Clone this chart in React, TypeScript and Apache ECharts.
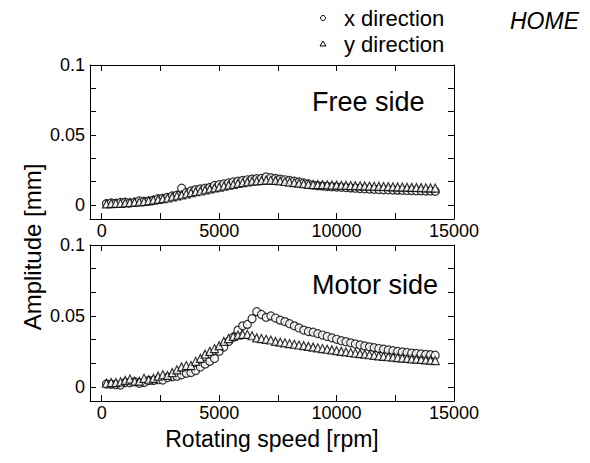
import React, { useEffect, useRef } from "react";
import * as echarts from "echarts";

const rpm = [
  200, 400, 600, 800, 1000, 1200, 1400, 1600, 1800, 2000,
  2200, 2400, 2600, 2800, 3000, 3200, 3400, 3600, 3800, 4000,
  4200, 4400, 4600, 4800, 5000, 5200, 5400, 5600, 5800, 6000,
  6200, 6400, 6600, 6800, 7000, 7200, 7400, 7600, 7800, 8000,
  8200, 8400, 8600, 8800, 9000, 9200, 9400, 9600, 9800, 10000,
  10200, 10400, 10600, 10800, 11000, 11200, 11400, 11600, 11800, 12000,
  12200, 12400, 12600, 12800, 13000, 13200, 13400, 13600, 13800, 14000,
  14200,
];

const freeX = [
  0.0010, 0.0015, 0.0012, 0.0018, 0.0020, 0.0015, 0.0020, 0.0030, 0.0025, 0.0028,
  0.0035, 0.0045, 0.0048, 0.0055, 0.0065, 0.0070, 0.0120, 0.0090, 0.0100, 0.0110,
  0.0115, 0.0120, 0.0125, 0.0140, 0.0145, 0.0150, 0.0158, 0.0165, 0.0170, 0.0175,
  0.0180, 0.0185, 0.0188, 0.0190, 0.0200, 0.0195, 0.0190, 0.0185, 0.0180, 0.0175,
  0.0170, 0.0165, 0.0158, 0.0150, 0.0142, 0.0138, 0.0135, 0.0132, 0.0130, 0.0128,
  0.0126, 0.0124, 0.0122, 0.0120, 0.0118, 0.0116, 0.0114, 0.0112, 0.0110, 0.0109,
  0.0108, 0.0107, 0.0106, 0.0105, 0.0104, 0.0103, 0.0102, 0.0101, 0.0100, 0.0099,
  0.0098,
];

const freeY = [
  0.0008, 0.0010, 0.0012, 0.0012, 0.0015, 0.0018, 0.0020, 0.0022, 0.0025, 0.0030,
  0.0035, 0.0040, 0.0045, 0.0050, 0.0058, 0.0065, 0.0072, 0.0080, 0.0088, 0.0095,
  0.0100, 0.0108, 0.0115, 0.0122, 0.0128, 0.0135, 0.0142, 0.0148, 0.0155, 0.0160,
  0.0165, 0.0170, 0.0172, 0.0175, 0.0178, 0.0178, 0.0176, 0.0172, 0.0168, 0.0164,
  0.0160, 0.0156, 0.0152, 0.0148, 0.0146, 0.0145, 0.0145, 0.0144, 0.0143, 0.0142,
  0.0141, 0.0140, 0.0139, 0.0138, 0.0137, 0.0136, 0.0135, 0.0134, 0.0133, 0.0132,
  0.0131, 0.0130, 0.0129, 0.0128, 0.0127, 0.0126, 0.0125, 0.0124, 0.0123, 0.0122,
  0.0121,
];

const motorX = [
  0.0020, 0.0018, 0.0015, 0.0012, 0.0030, 0.0028, 0.0035, 0.0025, 0.0030, 0.0045,
  0.0045, 0.0050, 0.0048, 0.0065, 0.0070, 0.0075, 0.0085, 0.0095, 0.0100, 0.0115,
  0.0140, 0.0160, 0.0180, 0.0200, 0.0250, 0.0280, 0.0320, 0.0350, 0.0400, 0.0430,
  0.0440, 0.0480, 0.0530, 0.0510, 0.0490, 0.0500, 0.0485, 0.0470, 0.0460, 0.0445,
  0.0430, 0.0415, 0.0400, 0.0390, 0.0385, 0.0375, 0.0365, 0.0355, 0.0345, 0.0335,
  0.0325, 0.0318, 0.0310, 0.0302, 0.0295, 0.0288, 0.0282, 0.0276, 0.0270, 0.0265,
  0.0260, 0.0255, 0.0250, 0.0246, 0.0242, 0.0238, 0.0235, 0.0232, 0.0229, 0.0226,
  0.0223,
];

const motorY = [
  0.0025, 0.0030, 0.0030, 0.0035, 0.0045, 0.0055, 0.0040, 0.0040, 0.0060, 0.0050,
  0.0060, 0.0075, 0.0085, 0.0080, 0.0100, 0.0120, 0.0140, 0.0150, 0.0150, 0.0180,
  0.0200, 0.0230, 0.0250, 0.0270, 0.0290, 0.0320, 0.0340, 0.0355, 0.0365, 0.0370,
  0.0370, 0.0360, 0.0345, 0.0340, 0.0335, 0.0330, 0.0320, 0.0315, 0.0310, 0.0305,
  0.0300, 0.0295, 0.0290, 0.0285, 0.0280, 0.0275, 0.0270, 0.0265, 0.0260, 0.0255,
  0.0250, 0.0246, 0.0242, 0.0238, 0.0234, 0.0230, 0.0226, 0.0222, 0.0218, 0.0215,
  0.0212, 0.0209, 0.0206, 0.0203, 0.0200, 0.0197, 0.0195, 0.0193, 0.0190, 0.0188,
  0.0185,
];

const xTickValues = [0, 2500, 5000, 7500, 10000, 12500, 15000];
const xLabelValues = [0, 5000, 10000, 15000];
const yTickValues = [0, 0.05 / 3, 0.1 / 3, 0.05, 0.2 / 3, 0.25 / 3, 0.1];
const yLabelValues = [0, 0.05, 0.1];

const FONT = "'Liberation Sans', Arial, Helvetica, sans-serif";

function makeX(gridIndex: number, position: "bottom" | "top", labels: boolean) {
  return {
    type: "value",
    gridIndex,
    position,
    min: -500,
    max: 15000,
    axisLine: { show: true, onZero: false, lineStyle: { color: "#000", width: 1 } },
    axisTick: { show: true, inside: true, length: 6, customValues: xTickValues, lineStyle: { color: "#000", width: 1 } },
    axisLabel: {
      show: labels,
      customValues: xLabelValues,
      color: "#000",
      fontSize: 18,
      fontFamily: FONT,
      margin: 3,
      formatter: (v: number) => String(v),
    },
    splitLine: { show: false },
  };
}

function makeY(gridIndex: number, position: "left" | "right", labels: boolean) {
  return {
    type: "value",
    gridIndex,
    position,
    min: -0.01,
    max: 0.1,
    axisLine: { show: true, onZero: false, lineStyle: { color: "#000", width: 1 } },
    axisTick: { show: true, inside: true, length: 6, customValues: yTickValues, lineStyle: { color: "#000", width: 1 } },
    axisLabel: {
      show: labels,
      customValues: yLabelValues,
      color: "#000",
      fontSize: 18,
      fontFamily: FONT,
      margin: 5,
      formatter: (v: number) => String(v),
    },
    splitLine: { show: false },
  };
}

const markerStyle = { color: "#fff", borderColor: "#000", borderWidth: 1.2 };

export default function App() {
  const ref = useRef<HTMLDivElement>(null);
  useEffect(() => {
    if (!ref.current) return;
    const chart = echarts.init(ref.current, undefined, { renderer: "svg" });
    const series = [
      { data: freeX, grid: 0, name: "x direction", symbol: "circle", size: 8 },
      { data: freeY, grid: 0, name: "y direction", symbol: "triangle", size: 8 },
      { data: motorX, grid: 1, name: "x direction", symbol: "circle", size: 8 },
      { data: motorY, grid: 1, name: "y direction", symbol: "triangle", size: 8 },
    ].map((s) => ({
      type: "scatter",
      name: s.name,
      xAxisIndex: s.grid * 2,
      yAxisIndex: s.grid * 2,
      symbol: s.symbol,
      symbolSize: s.size,
      itemStyle: markerStyle,
      data: rpm.map((r, i) => [r, s.data[i]]),
    }));
    chart.setOption({
      animation: false,
      grid: [
        { left: 90, top: 65, width: 364, height: 154, show: false },
        { left: 90, top: 245, width: 364, height: 156, show: false },
      ],
      xAxis: [makeX(0, "bottom", true), makeX(0, "top", false), makeX(1, "bottom", true), makeX(1, "top", false)],
      yAxis: [makeY(0, "left", true), makeY(0, "right", false), makeY(1, "left", true), makeY(1, "right", false)],
      series,
      graphic: [
        { type: "circle", shape: { cx: 323, cy: 18, r: 2.5 }, style: { fill: "#fff", stroke: "#000", lineWidth: 1 } },
        { type: "polygon", shape: { points: [[323, 41], [326, 46], [320, 46]] }, style: { fill: "#fff", stroke: "#000", lineWidth: 1 } },
        { type: "text", x: 344, y: 18, style: { text: "x direction", font: `22px ${FONT}`, fill: "#000", textVerticalAlign: "middle" } },
        { type: "text", x: 344, y: 44, style: { text: "y direction", font: `22px ${FONT}`, fill: "#000", textVerticalAlign: "middle" } },
        { type: "text", x: 510, y: 21, style: { text: "HOME", font: `italic 23px ${FONT}`, fill: "#000", textVerticalAlign: "middle" } },
        { type: "text", x: 312, y: 102, style: { text: "Free side", font: `27px ${FONT}`, fill: "#000", textVerticalAlign: "middle" } },
        { type: "text", x: 312, y: 285, style: { text: "Motor side", font: `27px ${FONT}`, fill: "#000", textVerticalAlign: "middle" } },
        { type: "text", x: 272, y: 439, style: { text: "Rotating speed [rpm]", font: `23px ${FONT}`, fill: "#000", textAlign: "center", textVerticalAlign: "middle" } },
        { type: "text", x: 32, y: 247, rotation: Math.PI / 2, style: { text: "Amplitude [mm]", font: `24px ${FONT}`, fill: "#000", textAlign: "center", textVerticalAlign: "middle" } },
      ],
    });
    return () => chart.dispose();
  }, []);
  return <div ref={ref} style={{ position: "absolute", left: 0, top: 0, width: 590, height: 463 }} />;
}
